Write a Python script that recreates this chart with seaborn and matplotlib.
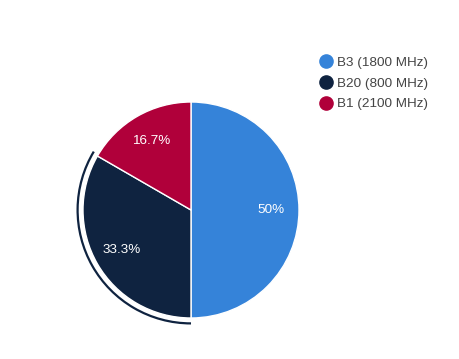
import matplotlib
matplotlib.use("Agg")
import matplotlib.pyplot as plt
from matplotlib.patches import Arc
from matplotlib.lines import Line2D
import seaborn as sns

labels = ["B3 (1800 MHz)", "B20 (800 MHz)", "B1 (2100 MHz)"]
values = [3, 2, 1]
colors = ["#3583d9", "#0f2340", "#b0003a"]

sns.set_theme(style="white")
plt.rcParams['font.family'] = ['Liberation Sans', 'DejaVu Sans']

W, H = 459, 359
fig = plt.figure(figsize=(W / 100, H / 100), dpi=100)
R = 108
cx, cy = 191, H - 210
ext = 1.2
ax = fig.add_axes([(cx - R * ext) / W, (cy - R * ext) / H, 2 * R * ext / W, 2 * R * ext / H])

wedges, texts, autotexts = ax.pie(
    values, colors=colors, startangle=90, counterclock=False,
    autopct=lambda p: f"{p:.1f}%".replace(".0%", "%"), pctdistance=0.74,
    wedgeprops=dict(edgecolor="white", linewidth=1),
    textprops=dict(color="white", fontsize=9.7),
)
ax.set_xlim(-ext, ext)
ax.set_ylim(-ext, ext)
ax.set_aspect("auto")
ax.axis("off")

# highlight arc around the B20 slice
w = wedges[1]
arc = Arc((0, 0), 2 * 1.05, 2 * 1.05, theta1=w.theta1 - 1, theta2=w.theta2,
          color=colors[1], lw=1.6)
ax.add_patch(arc)

handles = [Line2D([0], [0], marker="o", linestyle="", markersize=9.5,
                  markerfacecolor=c, markeredgecolor=c) for c in colors]
fig.legend(handles, labels, loc="upper left", bbox_to_anchor=(314 / W, 1 - 51 / H),
           frameon=False, fontsize=9.7, labelcolor="#444444", handletextpad=0.3,
           labelspacing=0.62, borderaxespad=0, handlelength=1.0)

fig.savefig("out.png", dpi=100)
